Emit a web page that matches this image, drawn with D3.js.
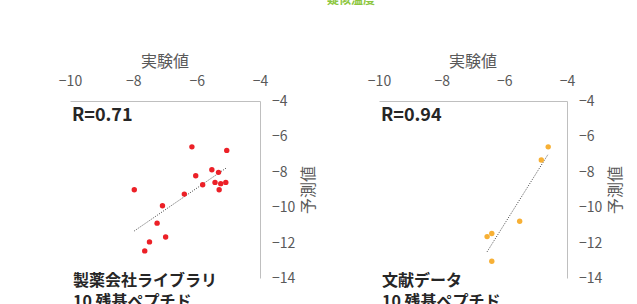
<!DOCTYPE html>
<html>
<head>
<meta charset="utf-8">
<script src="https://cdn.jsdelivr.net/npm/d3@7"></script>
<style>
  body { margin: 0; background: #fff; }
  svg text { font-family: "Noto Sans CJK JP", "Noto Sans", sans-serif; }
</style>
</head>
<body>
<div id="chart"></div>
<script>
// data
const xTicks = [-10, -8, -6, -4];
const yTicks = [-4, -6, -8, -10, -12, -14];

const libExp = [-6.15, -5.05, -5.52, -5.31, -5.81, -5.42, -5.24, -5.08, -5.29, -7.97, -6.03, -6.39, -7.08, -7.25, -6.98, -7.49, -7.64];
const libPred = [-6.59, -6.79, -7.88, -8.03, -8.73, -8.60, -8.67, -8.60, -9.01, -9.01, -8.22, -9.26, -9.92, -10.90, -11.68, -11.96, -12.47];

const litExp = [-4.60, -4.82, -5.51, -6.40, -6.55, -6.40];
const litPred = [-6.59, -7.33, -10.79, -11.49, -11.66, -13.05];

const panels = [
  { exp: libExp, pred: libPred, r: 'R=0.71', label: ['製薬会社ライブラリ', '10 残基ペプチド'], color: '#ec2027', x0: 70, x1: 260 },
  { exp: litExp, pred: litPred, r: 'R=0.94', label: ['文献データ', '10 残基ペプチド'], color: '#f7b035', x0: 379, x1: 567 }
];

const width = 637, height = 304;
const plotTop = 101, plotBottom = 278;

const svg = d3.select('#chart').append('svg')
  .attr('width', width)
  .attr('height', height);

// green heading, mostly cut off at the top
svg.append('text')
  .attr('x', 327)
  .attr('y', 4)
  .style('font-size', '12px')
  .style('font-weight', 'bold')
  .style('fill', '#8cc63e')
  .text('疑似温度');

function regression(xs, ys) {
  const mx = d3.mean(xs), my = d3.mean(ys);
  let sxy = 0, sxx = 0;
  for (let i = 0; i < xs.length; i++) {
    sxy += (xs[i] - mx) * (ys[i] - my);
    sxx += (xs[i] - mx) * (xs[i] - mx);
  }
  const b = sxy / sxx;
  return { b: b, a: my - b * mx };
}

panels.forEach(function (p) {
  const x = d3.scaleLinear().domain([-10, -4]).range([p.x0, p.x1]);
  const y = d3.scaleLinear().domain([-4, -14]).range([plotTop, plotBottom]);
  const g = svg.append('g');

  // x axis on top
  const xa = g.append('g')
    .attr('transform', 'translate(0,' + plotTop + ')')
    .call(d3.axisTop(x).tickValues(xTicks).tickFormat(d3.format('d'))
      .tickSize(0).tickSizeOuter(0).tickPadding(15));
  xa.select('.domain').attr('stroke', '#bfbfbf');
  xa.selectAll('text').style('font-size', '14px').style('fill', '#595959');

  // y axis on the right
  const ya = g.append('g')
    .attr('transform', 'translate(' + p.x1 + ',0)')
    .call(d3.axisRight(y).tickValues(yTicks).tickFormat(d3.format('d'))
      .tickSize(0).tickSizeOuter(0).tickPadding(12));
  ya.select('.domain').attr('stroke', '#bfbfbf');
  ya.selectAll('text').style('font-size', '14px').style('fill', '#595959');

  // axis titles
  g.append('text')
    .attr('x', (p.x0 + p.x1) / 2)
    .attr('y', 67)
    .attr('text-anchor', 'middle')
    .style('font-size', '16px')
    .style('fill', '#595959')
    .text('実験値');

  g.append('text')
    .attr('transform', 'translate(' + (p.x1 + 48) + ',' + 190 + ')rotate(-90)')
    .attr('text-anchor', 'middle')
    .attr('dy', '0.35em')
    .style('font-size', '16px')
    .style('fill', '#595959')
    .text('予測値');

  // trendline
  const fit = regression(p.exp, p.pred);
  const ext = d3.extent(p.exp);
  g.append('line')
    .attr('x1', x(ext[0]))
    .attr('y1', y(fit.a + fit.b * ext[0]))
    .attr('x2', x(ext[1]))
    .attr('y2', y(fit.a + fit.b * ext[1]))
    .attr('stroke', '#404040')
    .attr('stroke-width', 1)
    .attr('stroke-dasharray', '1,1.5');

  // points
  g.selectAll('.dot')
    .data(p.exp.map((d, i) => [d, p.pred[i]]))
    .join('circle')
    .attr('class', 'dot')
    .attr('cx', d => x(d[0]))
    .attr('cy', d => y(d[1]))
    .attr('r', 2.7)
    .attr('fill', p.color);

  // R value
  g.append('text')
    .attr('x', p.x0 + 2)
    .attr('y', 121)
    .style('font-size', '18px')
    .style('font-weight', 'bold')
    .style('fill', '#262626')
    .text(p.r);

  // dataset label
  g.selectAll('.lbl')
    .data(p.label)
    .join('text')
    .attr('class', 'lbl')
    .attr('x', p.x0 + 3)
    .attr('y', (d, i) => 286 + i * 21)
    .style('font-size', '16px')
    .style('font-weight', 'bold')
    .style('fill', '#262626')
    .text(d => d);
});
</script>
</body>
</html>
